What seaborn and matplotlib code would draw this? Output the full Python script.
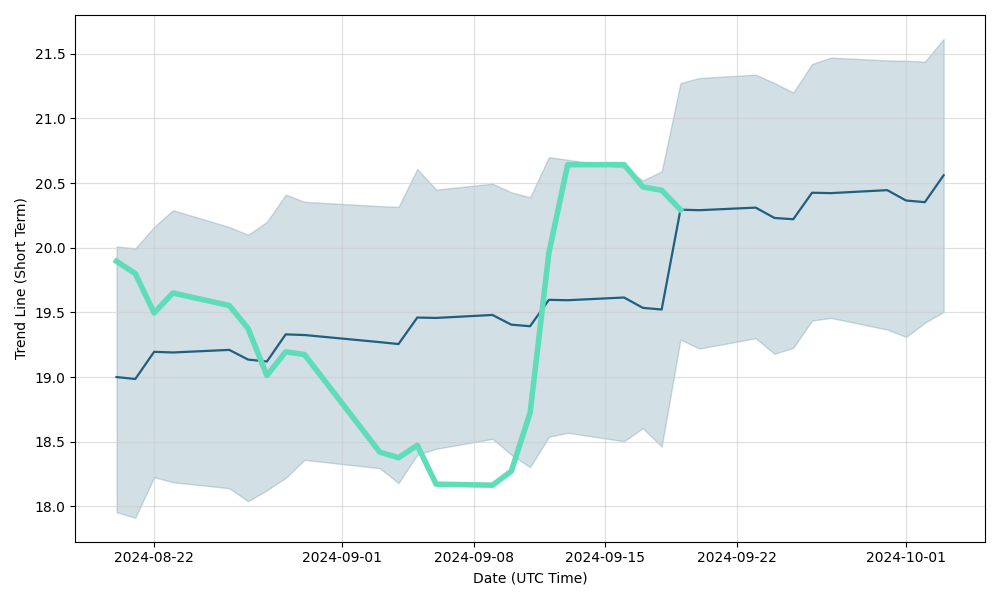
import matplotlib
matplotlib.use("Agg")
import matplotlib.pyplot as plt
import seaborn as sns
import pandas as pd
import numpy as np

dates = pd.to_datetime([
    "2024-08-20", "2024-08-21", "2024-08-22", "2024-08-23",
    "2024-08-26", "2024-08-27", "2024-08-28", "2024-08-29", "2024-08-30",
    "2024-09-03", "2024-09-04", "2024-09-05", "2024-09-06",
    "2024-09-09", "2024-09-10", "2024-09-11", "2024-09-12", "2024-09-13",
    "2024-09-16", "2024-09-17", "2024-09-18", "2024-09-19", "2024-09-20",
    "2024-09-23", "2024-09-24", "2024-09-25", "2024-09-26", "2024-09-27",
    "2024-09-30", "2024-10-01", "2024-10-02", "2024-10-03",
])

mean_line = [
    19.00, 18.985, 19.195, 19.19,
    19.21, 19.135, 19.12, 19.33, 19.325,
    19.27, 19.255, 19.46, 19.457,
    19.48, 19.405, 19.393, 19.597, 19.594,
    19.615, 19.535, 19.522, 20.294, 20.29,
    20.31, 20.23, 20.22, 20.425, 20.422,
    20.445, 20.365, 20.352, 20.56,
]

upper_band = [
    20.01, 19.995, 20.16, 20.29,
    20.16, 20.10, 20.20, 20.41, 20.355,
    20.322, 20.315, 20.609, 20.449,
    20.495, 20.428, 20.39, 20.70, 20.68,
    20.62, 20.52, 20.59, 21.273, 21.312,
    21.338, 21.273, 21.20, 21.42, 21.47,
    21.448, 21.446, 21.438, 21.614,
]

lower_band = [
    17.955, 17.912, 18.226, 18.187,
    18.14, 18.04, 18.125, 18.22, 18.36,
    18.295, 18.18, 18.40, 18.445,
    18.522, 18.40, 18.303, 18.538, 18.569,
    18.504, 18.605, 18.462, 19.29, 19.22,
    19.30, 19.18, 19.226, 19.437, 19.457,
    19.367, 19.31, 19.419, 19.504,
]

short_dates = dates[:22]
short_trend = [
    19.895, 19.80, 19.496, 19.65,
    19.553, 19.375, 19.012, 19.195, 19.174,
    18.42, 18.376, 18.473, 18.172,
    18.164, 18.272, 18.723, 19.96, 20.642,
    20.642, 20.47, 20.444, 20.294,
]

base_color = "#1f5f7f"
green = "#5fddb8"

fig, ax = plt.subplots(figsize=(10, 6), dpi=100)

ax.fill_between(dates, lower_band, upper_band, color=base_color, alpha=0.2, linewidth=1)
sns.lineplot(x=dates, y=mean_line, ax=ax, color=base_color, linewidth=1.6)
sns.lineplot(x=short_dates, y=short_trend, ax=ax, color=green, linewidth=4)

ax.grid(True, color="#cccccc", alpha=0.6, linewidth=0.9)
ax.set_xlabel("Date (UTC Time)")
ax.set_ylabel("Trend Line (Short Term)")

fig.tight_layout()
fig.savefig("out.png", dpi=100)
